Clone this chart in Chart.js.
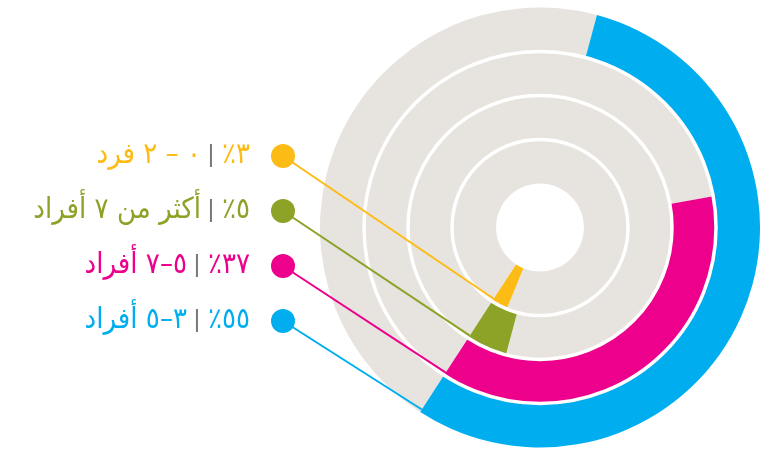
<!DOCTYPE html>
<html lang="ar">
<head>
<meta charset="utf-8">
<script src="https://cdn.jsdelivr.net/npm/chart.js@4.4.1/dist/chart.umd.min.js"></script>
<style>
html, body { margin: 0; background: #fff; }
#wrap { position: relative; width: 760px; height: 452px; }
</style>
</head>
<body>
<div id="wrap"><canvas id="households"></canvas></div>
<script>
// household size shares, outer ring first
const groups = ['٣–٥ أفراد', '٥–٧ أفراد', 'أكثر من ٧ أفراد', '٠ – ٢ فرد'];
const shares = [55, 37, 5, 3];
const colors = ['#00aeef', '#ec008c', '#8ca328', '#fdbb15'];
const restColor = '#e7e3de';
const sepColor = '#77787b';

const ROW_TOP = 156;
const ROW_GAP = 55;
const DOT_X = 283;
const TEXT_RIGHT = 250;
const FONT = '29px "DejaVu Sans Condensed", "DejaVu Sans", sans-serif';

const toArabicDigits = n => String(n).replace(/\d/g, d => '٠١٢٣٤٥٦٧٨٩'[d]);

const ringLabels = {
  id: 'ringLabels',
  afterDatasetsDraw(chart) {
    const { ctx } = chart;
    ctx.save();

    // thin white gaps between the rings
    chart.data.datasets.forEach((ds, i) => {
      if (i === 0) return;
      const arc = chart.getDatasetMeta(i).data[0];
      ctx.beginPath();
      ctx.arc(arc.x, arc.y, arc.outerRadius, 0, Math.PI * 2);
      ctx.strokeStyle = '#fff';
      ctx.lineWidth = 3.5;
      ctx.stroke();
    });

    // legend rows: innermost ring on top
    shares.forEach((v, i) => {
      const row = shares.length - 1 - i;
      const y = ROW_TOP + row * ROW_GAP;
      const arc = chart.getDatasetMeta(i).data[1];
      const r = arc.outerRadius - 3;
      const ex = arc.x + Math.cos(arc.endAngle) * r;
      const ey = arc.y + Math.sin(arc.endAngle) * r;

      ctx.strokeStyle = colors[i];
      ctx.lineWidth = 2;
      ctx.beginPath();
      ctx.moveTo(DOT_X, y);
      ctx.lineTo(ex, ey);
      ctx.stroke();

      ctx.fillStyle = colors[i];
      ctx.beginPath();
      ctx.arc(DOT_X, y, 12, 0, Math.PI * 2);
      ctx.fill();

      ctx.font = FONT;
      ctx.direction = 'rtl';
      ctx.textAlign = 'right';
      ctx.textBaseline = 'alphabetic';
      const base = y + 7;
      const pct = toArabicDigits(v) + '٪';
      ctx.fillText(pct, TEXT_RIGHT, base);
      const sepX = TEXT_RIGHT - ctx.measureText(pct).width - 11;
      ctx.fillStyle = sepColor;
      ctx.fillRect(sepX - 1, base - 19, 2, 23);
      ctx.fillStyle = colors[i];
      ctx.fillText(groups[i], sepX - 10, base);
    });
    ctx.restore();
  }
};

new Chart(document.getElementById('households'), {
  type: 'doughnut',
  data: {
    labels: ['rest', 'share'],
    datasets: shares.map((v, i) => ({
      data: [100 - v, v],
      backgroundColor: [restColor, colors[i]],
      borderWidth: 0
    }))
  },
  options: {
    responsive: true,
    maintainAspectRatio: false,
    animation: false,
    cutout: '20%',
    rotation: 213,
    layout: { padding: { left: 320, right: 0, top: 7, bottom: 4 } },
    plugins: { legend: { display: false }, tooltip: { enabled: false } }
  },
  plugins: [ringLabels]
});
</script>
</body>
</html>
